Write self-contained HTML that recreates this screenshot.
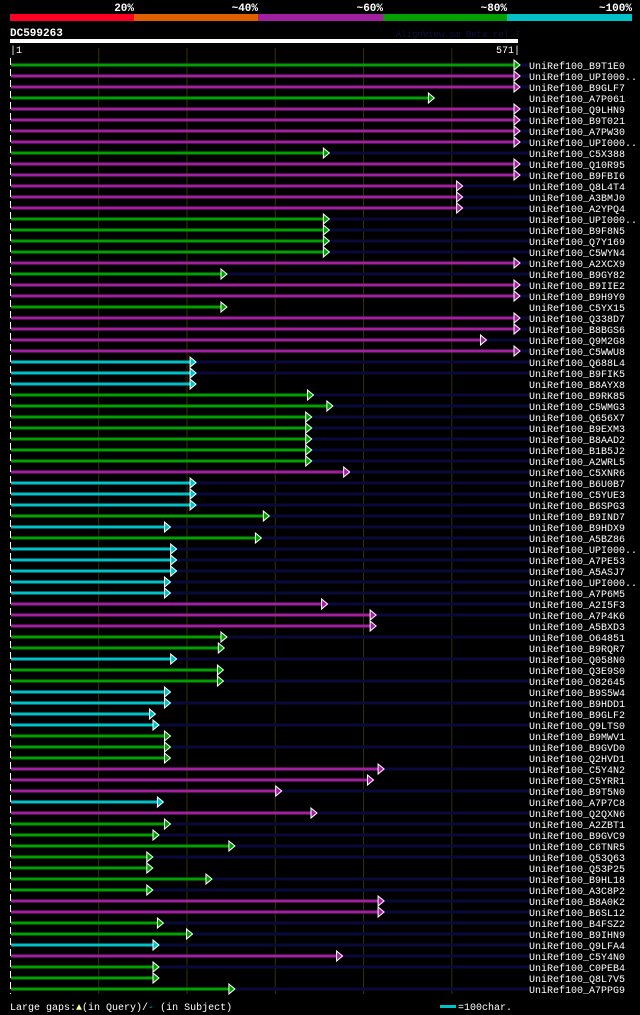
<!DOCTYPE html>
<html><head><meta charset="utf-8"><style>
html,body{margin:0;padding:0;background:#000;}
svg{display:block;}
text{font-family:"Liberation Mono","DejaVu Sans Mono",monospace;}
</style></head><body>
<svg id="chart" width="640" height="1015" viewBox="0 0 640 1015" xmlns="http://www.w3.org/2000/svg">
<g id="legend-top">
<rect x="10" y="14" width="124" height="7" fill="#ff0022"/>
<rect x="134" y="14" width="124" height="7" fill="#e06000"/>
<rect x="258" y="14" width="125" height="7" fill="#a020a0"/>
<rect x="383" y="14" width="124" height="7" fill="#00a000"/>
<rect x="507" y="14" width="125" height="7" fill="#00c0c8"/>
<text x="134" y="11" fill="#fff" font-size="11" font-weight="bold" text-anchor="end">20%</text>
<text x="258" y="11" fill="#fff" font-size="11" font-weight="bold" text-anchor="end">~40%</text>
<text x="383" y="11" fill="#fff" font-size="11" font-weight="bold" text-anchor="end">~60%</text>
<text x="507" y="11" fill="#fff" font-size="11" font-weight="bold" text-anchor="end">~80%</text>
<text x="632" y="11" fill="#fff" font-size="11" font-weight="bold" text-anchor="end">~100%</text>
</g>
<text x="10" y="36" fill="#fff" font-size="11" font-weight="bold">DC599263</text>
<text x="520" y="37" fill="#101040" font-size="9" text-anchor="end">AlignView.pm Beta rel.7</text>
<rect x="10" y="39" width="508" height="4" fill="#fff"/>
<text x="10" y="53" fill="#fff" font-size="10">|1</text>
<text x="520" y="53" fill="#fff" font-size="10" text-anchor="end">571|</text>
<g id="grid"></g>
<g id="rows"></g>
<text x="10" y="1010" fill="#fff" font-size="10">Large gaps:<tspan fill="#ffff80">▲</tspan>(in Query)/<tspan fill="#00c0c8">-</tspan> (in Subject)</text>
<rect x="440" y="1005" width="16" height="3" fill="#00c0c8"/>
<text x="458" y="1010" fill="#fff" font-size="10">=100char.</text>
</svg>
<script>
const names=["B9T1E0","UPI000..","B9GLF7","A7P061","Q9LHN9","B9T021","A7PW30","UPI000..","C5X388","Q10R95","B9FBI6","Q8L4T4","A3BMJ0","A2YPQ4","UPI000..","B9F8N5","Q7Y169","C5WYN4","A2XCX9","B9GY82","B9IIE2","B9H9Y0","C5YX15","Q338D7","B8BGS6","Q9M2G8","C5WWU8","Q688L4","B9FIK5","B8AYX8","B9RK85","C5WMG3","Q656X7","B9EXM3","B8AAD2","B1B5J2","A2WRL5","C5XNR6","B6U0B7","C5YUE3","B6SPG3","B9IND7","B9HDX9","A5BZ86","UPI000..","A7PE53","A5ASJ7","UPI000..","A7P6M5","A2I5F3","A7P4K6","A5BXD3","O64851","B9RQR7","Q058N0","Q3E9S0","O82645","B9S5W4","B9HDD1","B9GLF2","Q9LTS0","B9MWV1","B9GVD0","Q2HVD1","C5Y4N2","C5YRR1","B9T5N0","A7P7C8","Q2QXN6","A2ZBT1","B9GVC9","C6TNR5","Q53Q63","Q53P25","B9HL18","A3C8P2","B8A0K2","B6SL12","B4FSZ2","B9IHN9","Q9LFA4","C5Y4N0","C0PEB4","Q8L7V5","A7PPG9"];
const colors="gmmgmmmmgmmmmmggggmgmmgmmmmcccgggggggmcccgcgcccccmmmggcggccccgggmmmcmgggggggmmggcmggg";
const ends=[571,571,571,474,571,571,571,571,355,571,571,506,506,506,355,355,355,355,571,239,571,571,239,571,571,533,571,204,204,204,337,359,335,335,335,335,335,378,204,204,204,287,175,278,182,182,182,175,175,353,408,408,239,236,182,235,235,175,175,158,162,175,175,175,417,405,301,167,341,175,162,248,155,155,222,155,417,417,167,200,162,370,162,162,248];
const navy=[1,1,1,0,1,1,1,1,1,1,1,1,1,1,1,1,1,1,1,1,1,1,0,1,1,1,1,1,1,0,1,1,1,1,1,1,1,1,1,1,1,1,1,1,1,1,1,1,1,1,1,0,1,0,1,0,1,0,1,0,1,0,1,0,1,0,1,0,1,1,1,1,1,0,1,1,1,1,1,1,1,1,1,0,1];
const gridTicks=[100,200,300,400,500];
const QLEN=571, X0=11, XW=504, Y0=65, DY=11;
const xs=v=>X0+v/QLEN*XW;
const colMap={g:"#00a000",m:"#a020a0",c:"#00c0c8"};
const NS="http://www.w3.org/2000/svg";
const grid=document.getElementById('grid'), rows=document.getElementById('rows');
function mk(t,a){const e=document.createElementNS(NS,t);for(const k in a)e.setAttribute(k,a[k]);return e;}
gridTicks.forEach(t=>{
  const l=mk('line',{x1:xs(t)-0.5,x2:xs(t)-0.5,y1:48,y2:994,stroke:"#333300","stroke-width":1});
  
  
  grid.appendChild(l);
});
const qt=mk('line',{x1:10.5,x2:10.5,y1:58,y2:994,stroke:"#fff","stroke-width":1,"stroke-dasharray":"7 4"});


grid.appendChild(qt);
names.forEach((n,i)=>{
  const y=Y0+i*DY, xe=xs(ends[i]);
  const g=mk('g',{});
  
  
  if(navy[i]){const nv=mk('rect',{x:xe,y:y-1.5,width:529-xe,height:3,fill:"#0a0a3a"});
    
    
    g.appendChild(nv);}
  const b=mk('rect',{x:X0,y:y-1.5,width:xe-X0,height:3,fill:colMap[colors[i]]});
  
  
  g.appendChild(b);
  const a=mk('polygon',{points:`${xe-1},${y-5} ${xe+5},${y} ${xe-1},${y+5}`,fill:colMap[colors[i]],stroke:"#fff","stroke-width":1});
  
  
  g.appendChild(a);
  const t=mk('text',{x:529,y:y+4,fill:"#fff","font-size":10});
  t.textContent="UniRef100_"+n;
  
  
  g.appendChild(t);
  rows.appendChild(g);
});
</script>
</body></html>
